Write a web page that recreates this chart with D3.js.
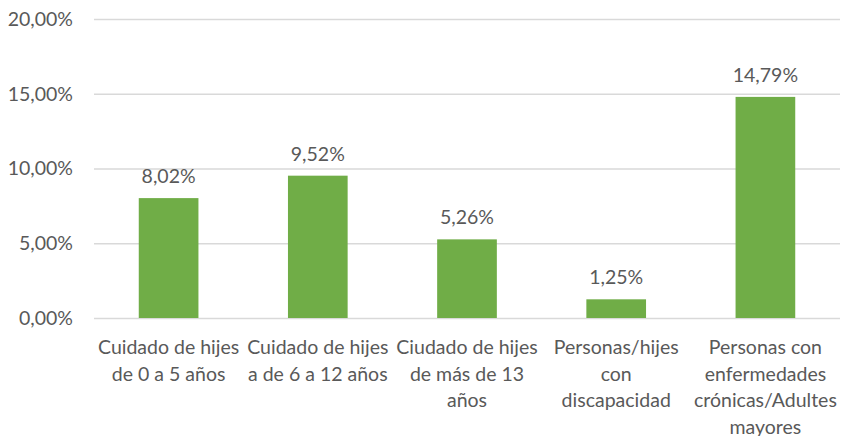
<!DOCTYPE html>
<html><head><meta charset="utf-8">
<script src="https://cdn.jsdelivr.net/npm/d3@7"></script>
<style>body{margin:0;background:#fff}svg{display:block}text{font-family:Lato,"Open Sans",sans-serif;fill:#595959}</style>
</head><body><svg id="c" width="842" height="436"></svg>
<script>
const categories = ["Cuidado de hijes de 0 a 5 años","Cuidado de hijes a de 6 a 12 años","Ciudado de hijes de más de 13 años","Personas/hijes con discapacidad","Personas con enfermedades crónicas/Adultes mayores"];
const categoryLines = [["Cuidado de hijes","de 0 a 5 años"],["Cuidado de hijes","a de 6 a 12 años"],["Ciudado de hijes","de más de 13","años"],["Personas/hijes","con","discapacidad"],["Personas con","enfermedades","crónicas/Adultes","mayores"]];
const values = [8.02, 9.52, 5.26, 1.25, 14.79];
const yTicks = [0, 5, 10, 15, 20];

const svg = d3.select("#c");
const mLeft = 94, mRight = 840, mTop = 19, mBottom = 318;
const fs = "19.5px";
const fmt = v => d3.format(".2f")(v).replace(".", ",") + "%";
const x = d3.scaleBand().domain(categories).range([mLeft, mRight]).paddingInner(0.6).paddingOuter(0.3);
const y = d3.scaleLinear().domain([0, 20]).range([mBottom, mTop]);

const ya = svg.append("g").attr("transform", `translate(${mLeft},0)`)
  .call(d3.axisLeft(y).tickValues(yTicks).tickFormat(fmt).tickSize(-(mRight - mLeft)).tickPadding(21));
ya.select(".domain").remove();
ya.selectAll("line").attr("stroke", "#d9d9d9").attr("stroke-width", 1.3);
ya.selectAll("text").style("font-size", fs).attr("fill", "#595959");

svg.append("g").selectAll("rect").data(values).join("rect")
  .attr("x", (d, i) => x(categories[i])).attr("width", x.bandwidth())
  .attr("y", d => y(d)).attr("height", d => y(0) - y(d)).attr("fill", "#70AD47");

svg.append("g").selectAll("text").data(values).join("text")
  .attr("x", (d, i) => x(categories[i]) + x.bandwidth() / 2).attr("y", d => y(d) - 15)
  .attr("text-anchor", "middle").style("font-size", fs).text(fmt);

const xa = svg.append("g").attr("transform", `translate(0,${mBottom})`).call(d3.axisBottom(x).tickSize(0).tickFormat(""));
xa.select(".domain").remove();
xa.selectAll(".tick").each(function(d, i) {
  const t = d3.select(this).append("text").attr("text-anchor", "middle").style("font-size", fs).attr("fill", "#595959");
  categoryLines[i].forEach((ln, j) => t.append("tspan").attr("x", 0).attr("y", 36 + j * 26.5).text(ln));
});
</script></body></html>
